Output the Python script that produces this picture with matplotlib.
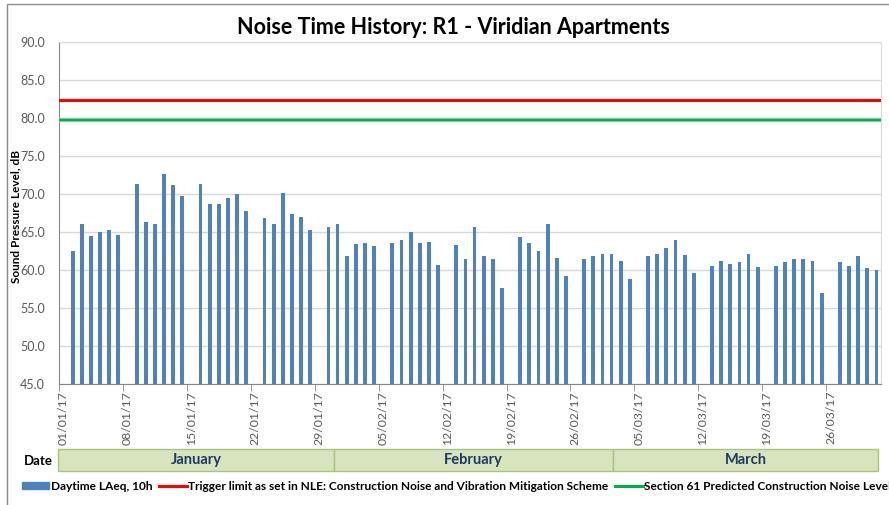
import numpy as np
import pandas as pd
import matplotlib
matplotlib.use("Agg")
import matplotlib.pyplot as plt
import matplotlib.dates as mdates
from matplotlib.patches import Rectangle, Patch
from matplotlib.lines import Line2D

plt.rcParams['font.family'] = ['Lato', 'DejaVu Sans']

# daily data, Sundays have no measurement
dates = pd.date_range('2017-01-01', '2017-03-31', freq='D')
laeq = [None,
        62.5, 66.1, 64.5, 65.0, 65.3, 64.6, None,
        71.3, 66.3, 66.0, 72.6, 71.2, 69.7, None,
        71.3, 68.7, 68.7, 69.5, 70.0, 67.8, None,
        66.9, 66.1, 70.1, 67.4, 67.0, 65.2, None,
        65.6, 66.0, 61.8, 63.4, 63.6, 63.1, None,
        63.6, 64.0, 65.0, 63.6, 63.7, 60.6, None,
        63.3, 61.4, 65.6, 61.8, 61.5, 57.6, None,
        64.3, 63.6, 62.5, 66.1, 61.6, 59.2, None,
        61.4, 61.9, 62.1, 62.1, 61.2, 58.8, None,
        61.9, 62.1, 62.9, 63.9, 62.0, 59.6, None,
        60.5, 61.2, 60.8, 61.1, 62.1, 60.4, None,
        60.5, 61.1, 61.5, 61.5, 61.2, 57.0, None,
        61.1, 60.5, 61.9, 60.3, 60.0]
trigger_limit = 82.4
section61_level = 79.8
months = ['January', 'February', 'March']

series_names = ['Daytime LAeq, 10h',
                'Trigger limit as set in NLE: Construction Noise and Vibration Mitigation Scheme',
                'Section 61 Predicted Construction Noise Level']

blue = '#4F81BD'
red = '#FF0000'
green = '#00B050'
grey_txt = '#595959'

x = mdates.date2num(dates)
vals = np.array([np.nan if v is None else v for v in laeq])

fig = plt.figure(figsize=(8.89, 5.05), dpi=100)

# outer chart frame (cut off at right/bottom like the screenshot)
fig.patches.append(Rectangle((6.5 / 889, -0.2), 1.2, 1.2 - 3.5 / 505,
                             transform=fig.transFigure, fill=False,
                             edgecolor='#8C8C8C', linewidth=1.0))

ax = fig.add_axes([59 / 889, 1 - 384 / 505, (881 - 59) / 889, (384 - 42) / 505])
ax.bar(x, vals, width=0.42, color=blue, zorder=3)
ax.axhline(trigger_limit, color=red, linewidth=2.2, zorder=4)
ax.axhline(section61_level, color='#92D8A8', linewidth=3.2, zorder=4)
ax.axhline(section61_level, color=green, linewidth=1.6, zorder=4)

ax.set_xlim(x[0] - 0.5, x[-1] + 0.5)
ax.set_ylim(45, 90)
ax.set_yticks(np.arange(45, 90.1, 5))
ax.yaxis.set_major_formatter(matplotlib.ticker.FormatStrFormatter('%.1f'))
ax.grid(axis='y', color='#D9D9D9', linewidth=1.0, zorder=0)

sundays = x[::7]
ax.set_xticks(sundays)
ax.set_xticklabels([d.strftime('%d/%m/%y') for d in dates[::7]], rotation=90)
ax.set_xticks(sundays - 0.5, minor=True)
ax.tick_params(axis='x', which='major', length=0, pad=5, labelsize=8.8, labelcolor=grey_txt)
ax.tick_params(axis='x', which='minor', length=5, color='#868686', direction='out')
ax.tick_params(axis='y', length=0, pad=10, labelsize=9, labelcolor=grey_txt)

for s in ['top', 'right']:
    ax.spines[s].set_color('#D9D9D9')
for s in ['left', 'bottom']:
    ax.spines[s].set_color('#868686')

ax.set_ylabel('Sound Pressure Level, dB', fontsize=8.5, fontweight='bold')
ax.yaxis.set_label_coords(-0.046, 0.49)

fig.text(453 / 889, 1 - 28 / 505, 'Noise Time History: R1 - Viridian Apartments',
         ha='center', va='center', fontsize=15.5, fontweight='bold')

# month band under the date axis
band = fig.add_axes([59 / 889, 1 - 471 / 505, (881 - 59) / 889, 22 / 505])
band.set_xlim(ax.get_xlim())
band.set_ylim(0, 1)
band.axis('off')
edges = [x[0] - 0.64, x[0] + 29.64, x[0] + 60.19, x[0] + 89.14]
for i, m in enumerate(months):
    band.add_patch(Rectangle((edges[i], 0), edges[i + 1] - edges[i], 1,
                             facecolor='#D7E4BD', edgecolor='#A9C47F',
                             linewidth=1.0, clip_on=False))
    band.text((edges[i] + edges[i + 1]) / 2, 0.5, m, ha='center', va='center',
              fontsize=10.5, fontweight='bold', color='#1F3864')
fig.text(38 / 889, 1 - 461 / 505, 'Date', ha='center', va='center',
         fontsize=9.5, fontweight='bold')

handles = [Patch(facecolor=blue, edgecolor=blue),
           Line2D([], [], color=red, linewidth=2.2),
           Line2D([], [], color=green, linewidth=2.2)]
leg = fig.legend(handles, series_names, loc='center left', ncol=3,
                 bbox_to_anchor=(22 / 889, 1 - 486 / 505), frameon=False,
                 prop={'size': 8.6, 'weight': 'bold'}, handlelength=2.3,
                 handleheight=0.5, handletextpad=0.1, columnspacing=0.6,
                 borderaxespad=0, borderpad=0)

fig.savefig('out.png', dpi=100)
